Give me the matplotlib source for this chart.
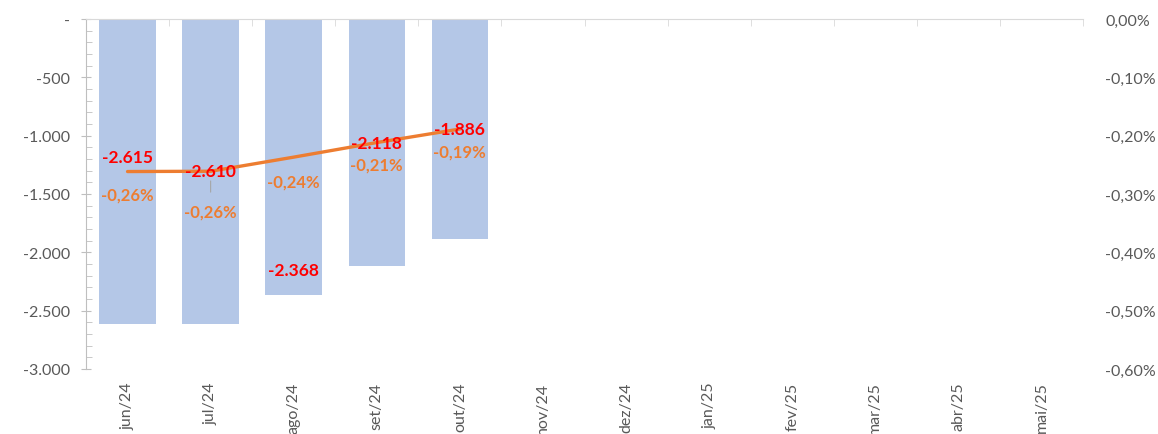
import matplotlib
matplotlib.use("Agg")
import matplotlib.pyplot as plt
from matplotlib.ticker import FixedLocator, FuncFormatter, MultipleLocator

plt.rcParams['font.family'] = ['Lato', 'DejaVu Sans']

months = ["jun/24", "jul/24", "ago/24", "set/24", "out/24", "nov/24",
          "dez/24", "jan/25", "fev/25", "mar/25", "abr/25", "mai/25"]
bar_values = [-2615, -2610, -2368, -2118, -1886]
pct_values = [-0.2615, -0.2610, -0.2368, -0.2118, -0.1886]  # in %
bar_labels = ["-2.615", "-2.610", "-2.368", "-2.118", "-1.886"]
pct_labels = ["-0,26%", "-0,26%", "-0,24%", "-0,21%", "-0,19%"]

BAR_C = "#B4C7E7"
LINE_C = "#ED7D31"
RED = "#FF0000"
GREY_T = "#595959"
AXIS_C = "#BFBFBF"

W, H = 1158, 435
fig = plt.figure(figsize=(W / 100, H / 100), dpi=100)
ax = fig.add_axes([86 / W, 1 - 370 / H, (1083 - 86) / W, (370 - 20) / H])

n = len(months)
x_all = list(range(n))
xb = list(range(len(bar_values)))
ax.bar(xb, bar_values, width=0.68, color=BAR_C, zorder=2)
ax.set_xlim(-0.5, n - 0.5)
ax.set_ylim(-3000, 0)

for s in ["right", "bottom"]:
    ax.spines[s].set_visible(False)
ax.spines["left"].set_color(AXIS_C)
ax.spines["top"].set_color("#D9D9D9")

def fmt_left(v, pos):
    if abs(v) < 1e-9:
        return "-"
    return "{:,.0f}".format(v).replace(",", ".")

ax.yaxis.set_major_locator(MultipleLocator(500))
ax.yaxis.set_minor_locator(MultipleLocator(100))
ax.yaxis.set_major_formatter(FuncFormatter(fmt_left))
ax.tick_params(axis="y", which="major", direction="inout", length=7, color=AXIS_C,
               labelcolor=GREY_T, labelsize=11.5, pad=8)
ax.tick_params(axis="y", which="minor", direction="in", length=4, color=AXIS_C)

ax.set_xticks(x_all)
ax.set_xticklabels(months, rotation=90)
ax.xaxis.set_minor_locator(FixedLocator([i + 0.5 for i in range(-1, n)]))
ax.tick_params(axis="x", which="major", bottom=True, top=False, length=0,
               labelcolor=GREY_T, labelsize=11.5, pad=9)
ax.tick_params(axis="x", which="minor", bottom=False, top=True, direction="in",
               length=5, color="#D9D9D9")

ax2 = ax.twinx()
ax2.set_ylim(-0.6, 0)
for s in ["right", "bottom", "top", "left"]:
    ax2.spines[s].set_visible(False)
ax2.yaxis.set_major_locator(MultipleLocator(0.1))
ax2.yaxis.set_major_formatter(FuncFormatter(lambda v, p: "{:.2f}%".format(v + 0.0).replace(".", ",")))
ax2.tick_params(axis="y", length=0, labelcolor=GREY_T, labelsize=11.5, pad=16)

ax2.plot(xb, pct_values, color=LINE_C, lw=2.4, zorder=3, solid_capstyle="round")

# data label offsets (pixels) relative to the line point
bar_off = [15, 0, None, 0, 0]
pct_off = [-23, -40, -24, -22, -22]
for i in range(len(xb)):
    if bar_off[i] is None:
        ax.annotate(bar_labels[i], (xb[i], bar_values[i]), xytext=(0, 25),
                    textcoords="offset pixels", ha="center", va="center",
                    color=RED, fontsize=12.5, fontweight="bold", zorder=6)
    else:
        ax2.annotate(bar_labels[i], (xb[i], pct_values[i]), xytext=(0, bar_off[i]),
                     textcoords="offset pixels", ha="center", va="center",
                     color=RED, fontsize=12.5, fontweight="bold", zorder=6)
    if i == 1:
        ax2.annotate(pct_labels[i], (xb[i], pct_values[i]), xytext=(0, pct_off[i]),
                     textcoords="offset pixels", ha="center", va="center",
                     color=LINE_C, fontsize=12, fontweight="bold", zorder=6,
                     arrowprops=dict(arrowstyle="-", color="#A6A6A6", lw=0.8,
                                     shrinkA=6, shrinkB=7))
    else:
        ax2.annotate(pct_labels[i], (xb[i], pct_values[i]), xytext=(0, pct_off[i]),
                     textcoords="offset pixels", ha="center", va="center",
                     color=LINE_C, fontsize=12, fontweight="bold", zorder=6)

fig.savefig("out.png", dpi=100)
